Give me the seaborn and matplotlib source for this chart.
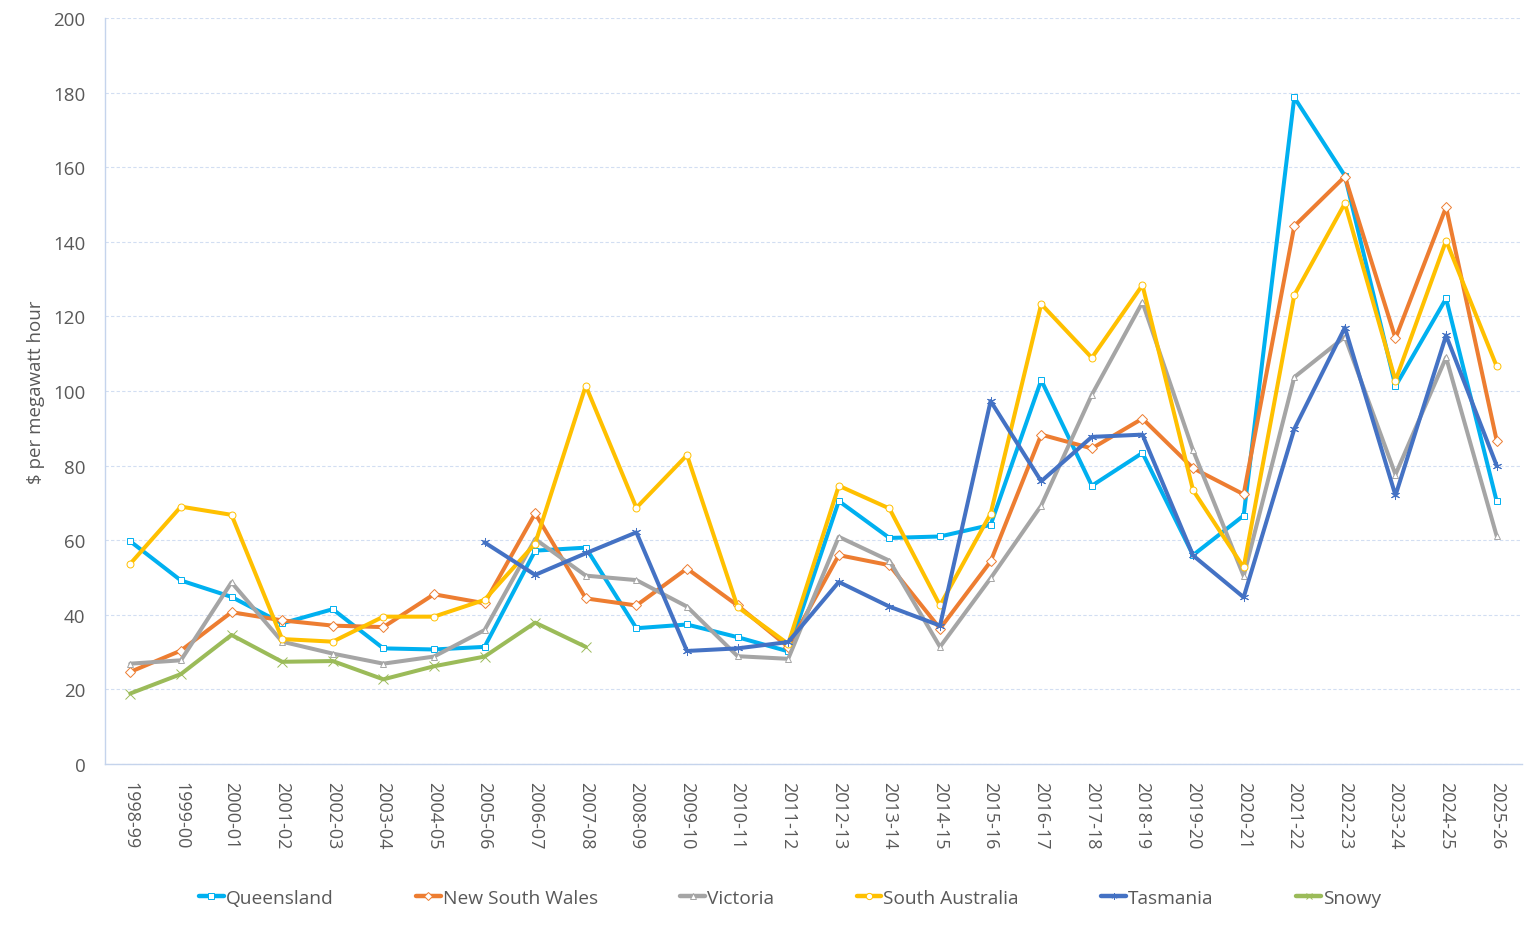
import numpy as np
import pandas as pd
import matplotlib
matplotlib.use("Agg")
import matplotlib.pyplot as plt
import seaborn as sns
from matplotlib.lines import Line2D

nan = np.nan
years = ["1998-99", "1999-00", "2000-01", "2001-02", "2002-03", "2003-04", "2004-05",
         "2005-06", "2006-07", "2007-08", "2008-09", "2009-10", "2010-11", "2011-12",
         "2012-13", "2013-14", "2014-15", "2015-16", "2016-17", "2017-18", "2018-19",
         "2019-20", "2020-21", "2021-22", "2022-23", "2023-24", "2024-25", "2025-26"]

queensland = [59.7, 49.2, 44.8, 37.7, 41.5, 31.0, 30.7, 31.4, 57.2, 58.0, 36.4, 37.4, 34.0, 30.2,
              70.5, 60.6, 61.0, 64.1, 102.9, 74.6, 83.4, 56.0, 66.6, 178.7, 157.7, 101.3, 124.8, 70.4]
new_south_wales = [24.7, 30.4, 40.7, 38.5, 37.1, 36.7, 45.5, 43.1, 67.2, 44.4, 42.5, 52.4, 42.5, 31.4,
                   56.0, 53.3, 36.3, 54.3, 88.3, 84.6, 92.6, 79.3, 72.3, 144.2, 157.5, 114.1, 149.3, 86.7]
victoria = [26.9, 27.8, 48.7, 32.8, 29.6, 26.9, 28.8, 35.9, 60.3, 50.5, 49.3, 42.2, 28.9, 28.2,
            60.9, 54.5, 31.4, 49.8, 69.3, 99.0, 123.8, 84.1, 50.4, 103.7, 114.5, 77.6, 109.0, 61.1]
south_australia = [53.7, 69.0, 66.8, 33.5, 32.8, 39.5, 39.5, 44.0, 59.1, 101.4, 68.7, 82.8, 42.1, 32.2,
                   74.6, 68.5, 42.5, 67.1, 123.3, 108.9, 128.4, 73.4, 52.7, 125.7, 150.3, 102.8, 140.3, 106.6]
tasmania = [nan, nan, nan, nan, nan, nan, nan, 59.4, 50.7, 56.5, 62.1, 30.3, 31.0, 32.7,
            48.8, 42.2, 37.1, 97.3, 75.8, 87.7, 88.3, 55.9, 44.7, 89.8, 117.0, 72.0, 114.9, 80.0]
snowy = [18.9, 24.1, 34.6, 27.4, 27.6, 22.7, 26.2, 28.8, 37.9, 31.4, nan, nan, nan, nan,
         nan, nan, nan, nan, nan, nan, nan, nan, nan, nan, nan, nan, nan, nan]

series_names = ["Queensland", "New South Wales", "Victoria", "South Australia", "Tasmania", "Snowy"]
series_values = [queensland, new_south_wales, victoria, south_australia, tasmania, snowy]
colors = ["#00B0F0", "#ED7D31", "#A5A5A5", "#FFC000", "#4472C4", "#9BBB59"]
markers = ["s", "D", "^", "o", (6, 2, 0), "x"]

sns.set_theme(style="white")
plt.rcParams["font.family"] = ["Open Sans", "DejaVu Sans"]

fig = plt.figure(figsize=(15.36, 9.29), dpi=100)
ax = fig.add_axes([105 / 1536, 1 - 765 / 929, (1522 - 105) / 1536, (765 - 19) / 929])

handles = []
for name, vals, col, mk in zip(series_names, series_values, colors, markers):
    df = pd.DataFrame({"x": np.arange(len(years)), "y": vals}).dropna()
    msize = 5 if mk not in ("x", (6, 2, 0)) else 6.5
    sns.lineplot(data=df, x="x", y="y", ax=ax, color=col, linewidth=2.9,
                 marker=mk, markersize=msize, markerfacecolor="white",
                 markeredgecolor=col, markeredgewidth=0.7, zorder=3)
    handles.append(Line2D([0], [0], color=col, linewidth=3.2, marker=mk, markersize=4.5,
                          markerfacecolor="white", markeredgecolor=col, markeredgewidth=0.7))

ax.set_xlim(-0.5, len(years) - 0.5)
ax.set_ylim(0, 200)
ax.set_yticks(np.arange(0, 201, 20))
ax.set_xticks(np.arange(len(years)))
ax.set_xticklabels(years, rotation=-90, fontsize=13, color="#595959")
ax.tick_params(axis="y", labelsize=13.5, colors="#595959", length=0, pad=14)
ax.tick_params(axis="x", length=0, pad=12)
ax.set_xlabel("")
ax.set_ylabel("$ per megawatt hour", fontsize=13.5, color="#595959", labelpad=6)

ax.grid(axis="y", color="#D2DEF2", linestyle=(0, (3, 2)), linewidth=0.8)
ax.grid(axis="x", visible=False)
for s in ["top", "right"]:
    ax.spines[s].set_visible(False)
for s in ["left", "bottom"]:
    ax.spines[s].set_color("#C5D4EC")
    ax.spines[s].set_linewidth(1.0)

leg = fig.legend(handles, series_names, loc="center", bbox_to_anchor=(0.5143, 1 - 899 / 929),
                 ncol=6, frameon=False, fontsize=13.8, handlelength=1.3, handletextpad=0.1,
                 columnspacing=4.3)
for t in leg.get_texts():
    t.set_color("#595959")

fig.savefig("out.png", dpi=100)
